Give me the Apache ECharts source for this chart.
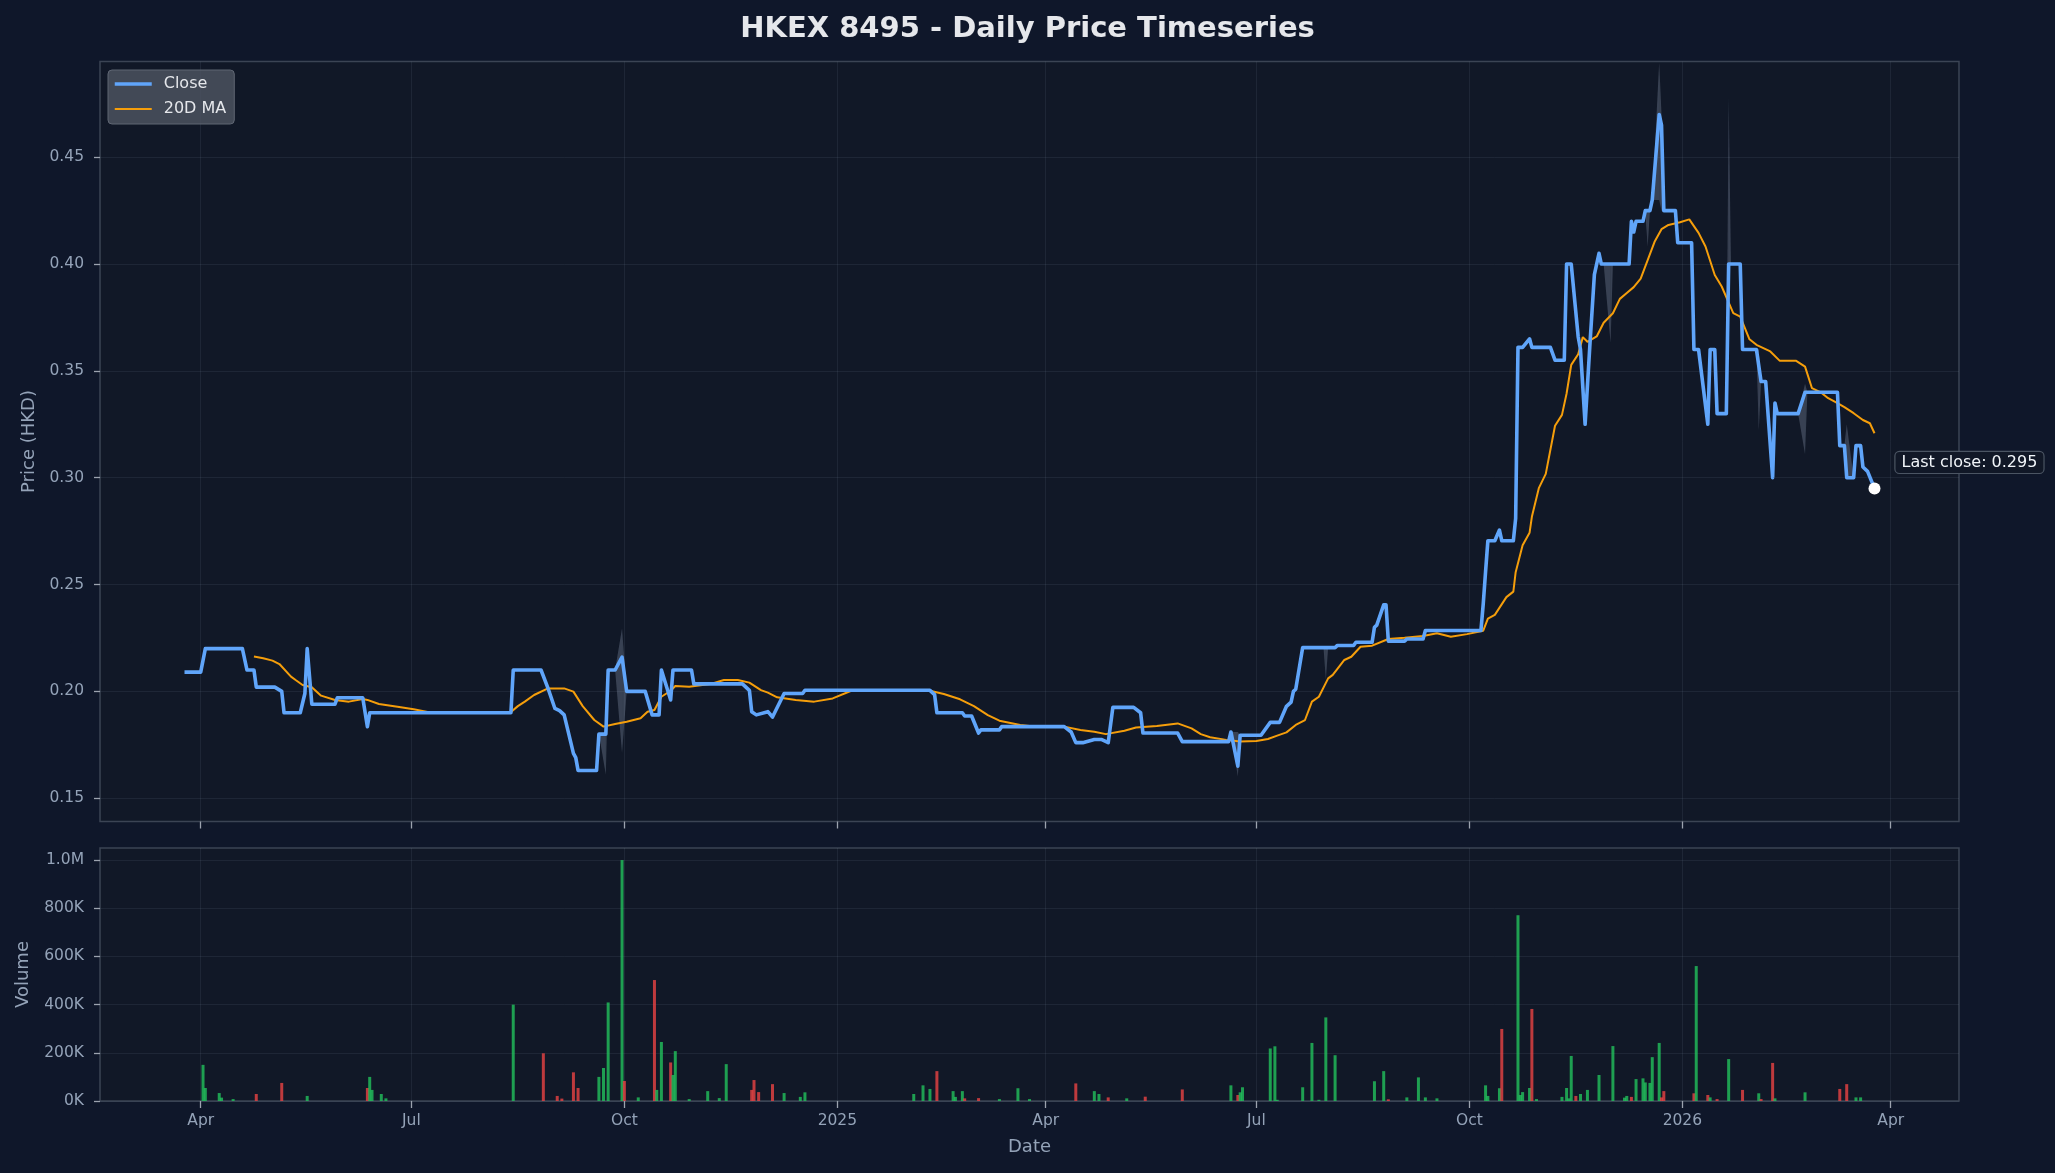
<!DOCTYPE html>
<html>
<head>
<meta charset="utf-8">
<script src="https://cdn.jsdelivr.net/npm/echarts@6/dist/echarts.min.js"></script>
<style>
html,body{margin:0;padding:0;background:#0f172a;}
#chart{width:2055px;height:1173px;}
</style>
</head>
<body>
<div id="chart"></div>
<script>
// ---------------- DATA ----------------
const closeDates = ['2024-03-25','2024-04-01','2024-04-03','2024-04-19','2024-04-21','2024-04-24','2024-04-25','2024-05-03','2024-05-06','2024-05-07','2024-05-14','2024-05-16','2024-05-17','2024-05-19','2024-05-29','2024-05-30','2024-06-10','2024-06-12','2024-06-13','2024-08-13','2024-08-14','2024-08-26','2024-08-29','2024-09-01','2024-09-03','2024-09-05','2024-09-09','2024-09-10','2024-09-11','2024-09-19','2024-09-20','2024-09-23','2024-09-24','2024-09-27','2024-09-30','2024-10-02','2024-10-10','2024-10-13','2024-10-16','2024-10-17','2024-10-21','2024-10-22','2024-10-30','2024-10-31','2024-11-21','2024-11-24','2024-11-25','2024-11-27','2024-12-02','2024-12-04','2024-12-09','2024-12-17','2024-12-18','2025-02-10','2025-02-12','2025-02-13','2025-02-24','2025-02-25','2025-02-28','2025-03-03','2025-03-04','2025-03-12','2025-03-13','2025-04-09','2025-04-12','2025-04-14','2025-04-17','2025-04-22','2025-04-25','2025-04-28','2025-04-30','2025-05-09','2025-05-12','2025-05-13','2025-05-28','2025-05-30','2025-06-19','2025-06-20','2025-06-23','2025-06-24','2025-07-03','2025-07-07','2025-07-11','2025-07-14','2025-07-16','2025-07-17','2025-07-18','2025-07-21','2025-08-04','2025-08-05','2025-08-12','2025-08-13','2025-08-20','2025-08-21','2025-08-22','2025-08-25','2025-08-26','2025-08-27','2025-09-03','2025-09-04','2025-09-11','2025-09-12','2025-10-06','2025-10-07','2025-10-08','2025-10-09','2025-10-12','2025-10-14','2025-10-15','2025-10-20','2025-10-21','2025-10-22','2025-10-24','2025-10-27','2025-10-28','2025-11-05','2025-11-07','2025-11-11','2025-11-12','2025-11-14','2025-11-17','2025-11-18','2025-11-20','2025-11-22','2025-11-24','2025-11-26','2025-11-27','2025-12-09','2025-12-10','2025-12-11','2025-12-12','2025-12-15','2025-12-16','2025-12-18','2025-12-19','2025-12-22','2025-12-23','2025-12-24','2025-12-29','2025-12-30','2026-01-05','2026-01-06','2026-01-08','2026-01-12','2026-01-13','2026-01-15','2026-01-16','2026-01-20','2026-01-21','2026-01-26','2026-01-27','2026-02-02','2026-02-04','2026-02-06','2026-02-09','2026-02-10','2026-02-11','2026-02-20','2026-02-23','2026-03-09','2026-03-10','2026-03-12','2026-03-13','2026-03-16','2026-03-17','2026-03-19','2026-03-20','2026-03-22','2026-03-25'];
const closeValues = [0.209,0.209,0.22,0.22,0.21,0.21,0.202,0.202,0.200,0.19,0.19,0.199,0.22,0.194,0.194,0.197,0.197,0.1835,0.19,0.19,0.21,0.21,0.2015,0.192,0.191,0.189,0.171,0.169,0.163,0.163,0.18,0.18,0.21,0.21,0.216,0.20,0.20,0.189,0.189,0.21,0.196,0.21,0.21,0.2035,0.2035,0.2005,0.1905,0.189,0.1905,0.188,0.199,0.199,0.2005,0.2005,0.1985,0.19,0.19,0.1885,0.1885,0.1805,0.182,0.182,0.1835,0.1835,0.181,0.176,0.176,0.1775,0.1775,0.176,0.1925,0.1925,0.19,0.1805,0.1805,0.1765,0.1765,0.181,0.165,0.1795,0.1795,0.1855,0.1855,0.193,0.195,0.20,0.201,0.2205,0.2205,0.2215,0.2215,0.223,0.223,0.230,0.231,0.2405,0.2405,0.2235,0.2235,0.2245,0.2245,0.2285,0.2285,0.241,0.256,0.2705,0.2705,0.2755,0.2705,0.2705,0.281,0.361,0.361,0.365,0.361,0.361,0.355,0.355,0.40,0.40,0.366,0.36,0.325,0.361,0.395,0.405,0.40,0.40,0.42,0.415,0.42,0.42,0.425,0.425,0.43,0.47,0.465,0.425,0.425,0.41,0.41,0.36,0.36,0.325,0.36,0.36,0.33,0.33,0.40,0.40,0.36,0.36,0.345,0.345,0.30,0.335,0.33,0.33,0.34,0.34,0.315,0.315,0.30,0.30,0.315,0.315,0.305,0.303,0.295];

const maDates = ['2024-04-24','2024-04-28','2024-05-02','2024-05-05','2024-05-10','2024-05-12','2024-05-15','2024-05-19','2024-05-23','2024-05-29','2024-06-04','2024-06-10','2024-06-12','2024-06-17','2024-06-25','2024-07-02','2024-07-08','2024-08-13','2024-08-16','2024-08-19','2024-08-23','2024-08-29','2024-09-05','2024-09-09','2024-09-13','2024-09-18','2024-09-22','2024-09-27','2024-10-02','2024-10-08','2024-10-11','2024-10-14','2024-10-17','2024-10-21','2024-10-23','2024-10-29','2024-11-07','2024-11-13','2024-11-19','2024-11-24','2024-11-29','2024-12-02','2024-12-06','2024-12-14','2024-12-22','2024-12-30','2025-01-07','2025-02-10','2025-02-16','2025-02-23','2025-03-01','2025-03-07','2025-03-12','2025-03-21','2025-03-28','2025-04-09','2025-04-16','2025-04-22','2025-04-27','2025-05-05','2025-05-10','2025-05-19','2025-05-28','2025-06-03','2025-06-07','2025-06-11','2025-06-18','2025-06-24','2025-07-01','2025-07-06','2025-07-10','2025-07-14','2025-07-18','2025-07-22','2025-07-25','2025-07-28','2025-08-01','2025-08-03','2025-08-08','2025-08-11','2025-08-15','2025-08-20','2025-08-27','2025-09-03','2025-09-11','2025-09-17','2025-09-23','2025-09-30','2025-10-07','2025-10-09','2025-10-12','2025-10-17','2025-10-20','2025-10-21','2025-10-24','2025-10-27','2025-10-28','2025-10-31','2025-11-03','2025-11-07','2025-11-10','2025-11-12','2025-11-14','2025-11-17','2025-11-19','2025-11-21','2025-11-25','2025-11-28','2025-12-02','2025-12-05','2025-12-08','2025-12-11','2025-12-14','2025-12-18','2025-12-20','2025-12-23','2025-12-26','2025-12-31','2026-01-04','2026-01-08','2026-01-11','2026-01-15','2026-01-18','2026-01-23','2026-01-26','2026-01-30','2026-02-02','2026-02-08','2026-02-12','2026-02-19','2026-02-23','2026-02-26','2026-03-02','2026-03-05','2026-03-09','2026-03-12','2026-03-16','2026-03-20','2026-03-23','2026-03-25'];
const maValues = [0.2163,0.2155,0.2144,0.2128,0.2069,0.2053,0.2030,0.2019,0.1980,0.1960,0.1952,0.1964,0.1960,0.1941,0.1928,0.1916,0.1903,0.1903,0.1931,0.1952,0.1983,0.2014,0.2014,0.1999,0.1931,0.1866,0.1835,0.1847,0.1858,0.1874,0.1905,0.1913,0.1975,0.2003,0.2025,0.2022,0.2034,0.2053,0.2053,0.2041,0.2006,0.1994,0.1972,0.1960,0.1952,0.1967,0.2003,0.2003,0.1988,0.1963,0.1931,0.1889,0.1863,0.1843,0.1835,0.1835,0.1819,0.1811,0.1800,0.1816,0.1831,0.1838,0.1850,0.1827,0.1800,0.1785,0.1773,0.1765,0.1768,0.1777,0.1793,0.1808,0.1843,0.1866,0.1952,0.1975,0.2061,0.2077,0.2147,0.2162,0.2209,0.2214,0.2245,0.2251,0.2259,0.2272,0.2256,0.2268,0.2284,0.2341,0.2358,0.2441,0.2467,0.2558,0.2684,0.2742,0.2817,0.2951,0.3018,0.3243,0.3294,0.3394,0.3528,0.3578,0.3658,0.3636,0.3661,0.3725,0.3770,0.3837,0.3865,0.3892,0.3932,0.4046,0.4104,0.4163,0.4183,0.4196,0.4209,0.4146,0.4082,0.3949,0.3895,0.3770,0.3754,0.3648,0.3622,0.3591,0.3548,0.3548,0.3520,0.3419,0.3398,0.3372,0.3349,0.3330,0.3302,0.3270,0.3255,0.3208];

// intraday high/low band (only days where it is visible, with flat neighbours)
const bandDates = ['2024-09-20','2024-09-23','2024-09-24','2024-09-27','2024-09-30','2024-10-02','2025-06-20','2025-06-23','2025-06-24','2025-07-30','2025-07-31','2025-08-01','2025-11-28','2025-12-01','2025-12-02','2025-12-16','2025-12-17','2025-12-18','2025-12-19','2025-12-22','2025-12-23','2025-12-24','2026-01-20','2026-01-21','2026-01-22','2026-02-02','2026-02-03','2026-02-04','2026-02-20','2026-02-23','2026-02-24','2026-03-12','2026-03-13','2026-03-16'];
const bandLow  = [0.18,0.161,0.21,0.21,0.171,0.20,0.181,0.16,0.1795,0.2205,0.2055,0.2205,0.40,0.363,0.40,0.425,0.408,0.425,0.43,0.43,0.425,0.425,0.33,0.40,0.40,0.36,0.322,0.345,0.33,0.311,0.34,0.315,0.30,0.30];
const bandHigh = [0.18,0.18,0.21,0.21,0.2295,0.20,0.181,0.181,0.1795,0.2205,0.2205,0.2205,0.40,0.40,0.40,0.425,0.425,0.425,0.43,0.4945,0.47,0.425,0.33,0.478,0.40,0.36,0.36,0.345,0.33,0.344,0.34,0.315,0.325,0.30];

const volDates = ['2024-04-02','2024-04-03','2024-04-09','2024-04-10','2024-04-15','2024-04-25','2024-05-06','2024-05-17','2024-06-12','2024-06-13','2024-06-14','2024-06-18','2024-06-20','2024-08-14','2024-08-27','2024-09-02','2024-09-04','2024-09-09','2024-09-11','2024-09-20','2024-09-22','2024-09-24','2024-09-30','2024-10-01','2024-10-07','2024-10-14','2024-10-15','2024-10-17','2024-10-21','2024-10-22','2024-10-23','2024-10-29','2024-11-06','2024-11-11','2024-11-14','2024-11-25','2024-11-26','2024-11-28','2024-12-04','2024-12-09','2024-12-16','2024-12-18','2025-02-03','2025-02-07','2025-02-10','2025-02-13','2025-02-20','2025-02-21','2025-02-24','2025-02-25','2025-03-03','2025-03-12','2025-03-20','2025-03-25','2025-04-14','2025-04-22','2025-04-24','2025-04-28','2025-05-06','2025-05-14','2025-05-30','2025-06-20','2025-06-23','2025-06-24','2025-06-25','2025-07-07','2025-07-09','2025-07-10','2025-07-21','2025-07-25','2025-07-28','2025-07-31','2025-08-04','2025-08-21','2025-08-25','2025-08-27','2025-09-04','2025-09-09','2025-09-12','2025-09-17','2025-10-08','2025-10-09','2025-10-14','2025-10-15','2025-10-22','2025-10-23','2025-10-24','2025-10-27','2025-10-28','2025-10-30','2025-11-10','2025-11-12','2025-11-13','2025-11-14','2025-11-16','2025-11-18','2025-11-21','2025-11-26','2025-12-02','2025-12-07','2025-12-08','2025-12-10','2025-12-12','2025-12-15','2025-12-16','2025-12-18','2025-12-19','2025-12-22','2025-12-23','2025-12-24','2026-01-06','2026-01-07','2026-01-12','2026-01-13','2026-01-16','2026-01-21','2026-01-27','2026-02-03','2026-02-04','2026-02-09','2026-02-10','2026-02-23','2026-03-10','2026-03-13','2026-03-17','2026-03-19'];
const volValues = [150000,54000,33000,14000,8000,29000,75000,21000,54000,100000,46000,29000,11000,400000,198000,21000,10000,119000,54000,100000,137000,409000,1000000,83000,15000,502000,46000,245000,160000,108000,207000,8000,41000,12000,153000,46000,87000,37000,70000,33000,17000,36000,29000,65000,50000,124000,41000,17000,41000,11000,12000,8000,53000,8000,73000,41000,29000,15000,11000,18000,48000,65000,25000,36000,57000,218000,227000,5000,57000,241000,5000,347000,190000,82000,124000,7000,15000,98000,15000,11000,65000,21000,53000,299000,771000,25000,37000,54000,382000,8000,17000,54000,11000,187000,21000,29000,46000,108000,228000,14000,21000,17000,91000,94000,77000,75000,182000,241000,15000,41000,32000,560000,25000,15000,8000,174000,46000,32000,8000,158000,11000,36000,50000,70000,15000,15000];
const volUp = [1,1,1,1,1,0,0,1,0,1,1,1,1,1,0,0,0,0,0,1,1,1,1,0,1,0,1,1,0,1,1,1,1,1,1,0,0,0,0,1,1,1,1,1,1,0,1,1,1,0,0,1,1,1,0,1,1,0,1,0,0,1,0,1,1,1,1,1,1,1,1,1,1,1,1,0,1,1,1,1,1,1,1,0,1,1,1,1,0,1,1,1,1,1,0,1,1,1,1,1,1,0,1,1,1,1,1,1,0,0,0,1,0,1,0,1,0,1,0,0,1,1,0,0,1,1];

const xTickDates  = ['2024-04-01','2024-07-01','2024-10-01','2025-01-01','2025-04-01','2025-07-01','2025-10-01','2026-01-01','2026-04-01'];
const xTickLabels = ['Apr','Jul','Oct','2025','Apr','Jul','Oct','2026','Apr'];
const priceTicks = [0.15,0.20,0.25,0.30,0.35,0.40,0.45];
const volTicks = [0,200000,400000,600000,800000,1000000];
const volTickLabels = ['0K','200K','400K','600K','800K','1.0M'];

// ---------------- CHART ----------------
function ts(s){ const p = s.split('-').map(Number); return Date.UTC(p[0], p[1]-1, p[2]); }
const tickTimes = xTickDates.map(ts);
const X_MIN = ts('2024-02-17') + 12*3600e3;
const X_MAX = ts('2026-04-30') + 12*3600e3;

const closeData = closeDates.map((d,i)=>[ts(d), closeValues[i]]);
const maData = maDates.map((d,i)=>[ts(d), maValues[i]]);
const bandData = bandDates.map((d,i)=>[ts(d), bandLow[i], bandHigh[i]]);
const volData = volDates.map((d,i)=>({value:[ts(d), volValues[i]], itemStyle:{color: volUp[i] ? 'rgba(34,197,94,0.78)' : 'rgba(239,68,68,0.78)'}}));
const lastIdx = closeDates.length - 1;

const FONT = 'DejaVu Sans';
const LABEL = '#94a3b8';
const GRIDLINE = 'rgba(148,163,184,0.10)';

function xAxisCfg(gridIndex, showLabels){
  return {
    type:'value', gridIndex, min:X_MIN, max:X_MAX, scale:true,
    axisLine:{show:false},
    axisTick:{show:true, customValues:tickTimes, length:7, lineStyle:{color:'#9ca3af', width:1.3}},
    axisLabel:{show:showLabels, customValues:tickTimes, color:LABEL, fontSize:15.5, fontFamily:FONT, margin:12,
      formatter:(v)=>{ const i = tickTimes.indexOf(v); return i>=0 ? xTickLabels[i] : ''; }},
    splitLine:{show:true, lineStyle:{color:GRIDLINE, width:1}},
    name: showLabels ? 'Date' : '', nameLocation:'middle', nameGap:37,
    nameTextStyle:{color:LABEL, fontSize:18, fontFamily:FONT}
  };
}

// fill between low and high for consecutive band points (like fill_between)
function renderBand(params, api){
  const i = params.dataIndex;
  if (i >= bandData.length - 1) return null;
  const a = bandData[i], b = bandData[i+1];
  if (a[1] === a[2] && b[1] === b[2]) return null;
  const pts = [api.coord([a[0], a[2]]), api.coord([b[0], b[2]]), api.coord([b[0], b[1]]), api.coord([a[0], a[1]])];
  return {type:'polygon', shape:{points:pts}, style:{fill:'rgba(148,163,184,0.30)', stroke:'none'}, silent:true};
}

const chart = echarts.init(document.getElementById('chart'), null, {renderer:'canvas'});
chart.setOption({
  animation:false,
  backgroundColor:'#0f172a',
  textStyle:{fontFamily:FONT},
  title:{text:'HKEX 8495 - Daily Price Timeseries', left:'center', top:15, padding:0,
    textStyle:{color:'#e5e7eb', fontSize:29, fontWeight:'bold', fontFamily:FONT}},
  legend:{
    data:[
      {name:'Close', lineStyle:{width:3.5}, itemStyle:{opacity:0}},
      {name:'20D MA', lineStyle:{width:2}, itemStyle:{opacity:0}}
    ],
    orient:'vertical', left:108, top:70,
    padding:[6,8,7,5], itemGap:9, itemWidth:37, itemHeight:14,
    backgroundColor:'rgba(75,82,95,0.85)', borderColor:'#5f6673', borderWidth:1, borderRadius:4,
    textStyle:{color:'#e5e7eb', fontSize:16, fontFamily:FONT, padding:[0,0,0,7]}
  },
  grid:[
    {left:100, right:96, top:61.5, height:760, show:true, backgroundColor:'#111827', borderColor:'#3b4454', borderWidth:1.5},
    {left:100, right:96, top:848, height:253, show:true, backgroundColor:'#111827', borderColor:'#3b4454', borderWidth:1.5}
  ],
  xAxis:[ xAxisCfg(0,false), xAxisCfg(1,true) ],
  yAxis:[
    {type:'value', gridIndex:0, min:0.1391, max:0.4948,
      axisLine:{show:false},
      axisTick:{show:true, customValues:priceTicks, length:6, lineStyle:{color:'#9ca3af', width:1.3}},
      axisLabel:{customValues:priceTicks, color:LABEL, fontSize:15.5, fontFamily:FONT, margin:16, formatter:(v)=>v.toFixed(2)},
      splitLine:{show:true, lineStyle:{color:GRIDLINE, width:1}},
      name:'Price (HKD)', nameLocation:'middle', nameGap:62, nameRotate:90,
      nameTextStyle:{color:LABEL, fontSize:18, fontFamily:FONT}},
    {type:'value', gridIndex:1, min:0, max:1050000,
      axisLine:{show:false},
      axisTick:{show:true, customValues:volTicks, length:6, lineStyle:{color:'#9ca3af', width:1.3}},
      axisLabel:{customValues:volTicks, color:LABEL, fontSize:15.5, fontFamily:FONT, margin:16,
        formatter:(v)=>{ const i = volTicks.indexOf(v); return i>=0 ? volTickLabels[i] : ''; }},
      splitLine:{show:true, lineStyle:{color:GRIDLINE, width:1}},
      name:'Volume', nameLocation:'middle', nameGap:68, nameRotate:90,
      nameTextStyle:{color:LABEL, fontSize:18, fontFamily:FONT}}
  ],
  series:[
    {name:'High/Low', type:'custom', xAxisIndex:0, yAxisIndex:0, data:bandData, renderItem:renderBand,
      encode:{x:0, y:[1,2]}, clip:true, silent:true, z:1},
    {name:'Close', type:'line', xAxisIndex:0, yAxisIndex:0, data:closeData, symbol:'none',
      lineStyle:{color:'#60a5fa', width:3.6, join:'round'}, itemStyle:{color:'#60a5fa'}, z:4},
    {name:'20D MA', type:'line', xAxisIndex:0, yAxisIndex:0, data:maData, symbol:'none',
      lineStyle:{color:'#f59e0b', width:2}, itemStyle:{color:'#f59e0b'}, z:3},
    {name:'last', type:'scatter', xAxisIndex:0, yAxisIndex:0, data:[[ts(closeDates[lastIdx]), closeValues[lastIdx]]],
      symbolSize:12, itemStyle:{color:'#ffffff', opacity:1}, z:6,
      label:{show:true, position:'right', offset:[10,-26], formatter:'Last close: ' + closeValues[lastIdx],
        color:'#f1f5f9', fontSize:16, fontFamily:FONT, backgroundColor:'#111827',
        borderColor:'#4b5563', borderWidth:1.2, borderRadius:4, padding:[3,6,2,6]}},
    {name:'Volume', type:'bar', xAxisIndex:1, yAxisIndex:1, data:volData, barWidth:3, z:2}
  ]
});
</script>
</body>
</html>
